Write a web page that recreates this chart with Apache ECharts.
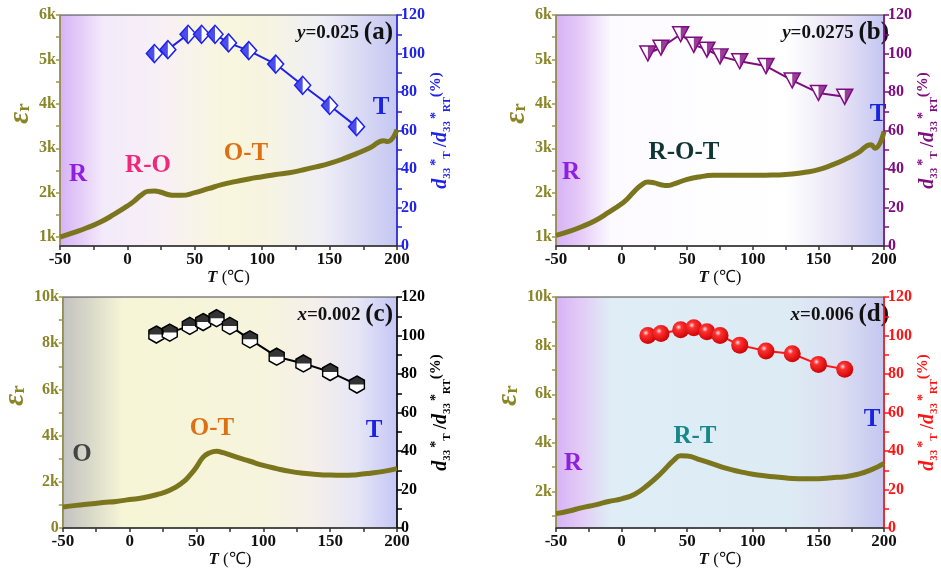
<!DOCTYPE html>
<html>
<head>
<meta charset="UTF-8">
<title>εr and d33 vs T</title>
<script src="https://cdn.jsdelivr.net/npm/echarts@6/dist/echarts.min.js"></script>
<style>
  html, body { margin: 0; padding: 0; background: #fff; }
  #chart { width: 941px; height: 579px; }
</style>
</head>
<body>
<div id="chart"></div>
<script>
// temperatures where d33*(T)/d33*(RT) was measured, same in all panels
const d33Temps = [20, 30, 45, 55, 65, 75, 90, 110, 130, 150, 170];
const d33A = [100, 102, 110, 110, 110, 105.5, 101.5, 94.5, 83.5, 73, 62];
const d33B = [100, 103, 110, 104.5, 102, 98.5, 96, 93.5, 86, 79.5, 77.5];
const d33C = [100.5, 101.5, 105, 107, 109, 105, 98, 89, 85.5, 81, 74.5];
const d33D = [100, 101, 103, 104, 102, 100, 95, 92, 90.5, 85, 82.5];

// dielectric constant curves
const epsTA = [-50, -40, -30, -20, -10, 0, 5, 10, 15, 20, 25, 30, 35, 40, 50, 60, 70, 80, 90, 100, 110, 120, 130, 140, 150, 160, 170, 180, 190, 193, 200];
const epsA = [1000, 1100, 1210, 1340, 1510, 1700, 1810, 1940, 2030, 2040, 2010, 1960, 1940, 1940, 2000, 2090, 2180, 2250, 2310, 2360, 2410, 2450, 2510, 2580, 2660, 2760, 2880, 3010, 3170, 3150, 3420];
const epsTB = [-50, -40, -30, -20, -10, 0, 5, 10, 15, 20, 25, 30, 35, 40, 50, 60, 70, 80, 90, 100, 110, 120, 130, 140, 150, 160, 170, 180, 190, 193, 200];
const epsB = [1040, 1130, 1240, 1375, 1555, 1750, 1880, 2040, 2170, 2240, 2220, 2180, 2160, 2200, 2300, 2360, 2390, 2395, 2390, 2390, 2395, 2400, 2420, 2460, 2520, 2620, 2745, 2895, 3080, 3000, 3380];
const epsTC = [-50, -40, -30, -20, -10, 0, 10, 20, 30, 40, 45, 50, 55, 60, 65, 70, 80, 90, 100, 110, 120, 130, 140, 150, 160, 170, 180, 190, 200];
const epsC = [910, 980, 1040, 1100, 1150, 1230, 1310, 1440, 1630, 1990, 2280, 2640, 3070, 3260, 3320, 3260, 3070, 2890, 2710, 2570, 2450, 2370, 2320, 2290, 2280, 2310, 2370, 2450, 2570];
const epsTD = [-50, -40, -30, -20, -10, 0, 10, 20, 30, 40, 45, 50, 60, 70, 80, 90, 100, 110, 120, 130, 140, 150, 160, 170, 180, 190, 200];
const epsD = [1090, 1200, 1340, 1450, 1590, 1700, 1890, 2270, 2750, 3300, 3470, 3460, 3300, 3130, 2950, 2820, 2710, 2640, 2590, 2540, 2530, 2530, 2570, 2610, 2710, 2890, 3160];

// tick labels
const tempTicks = [-50, -25, 0, 25, 50, 75, 100, 125, 150, 175, 200];
const epsLabels6k = [1000, 2000, 3000, 4000, 5000, 6000];
const epsTicks6k = [1000, 1500, 2000, 2500, 3000, 3500, 4000, 4500, 5000, 5500, 6000];
const epsLabels10k = [0, 2000, 4000, 6000, 8000, 10000];
const epsTicks10k = [0, 1000, 2000, 3000, 4000, 5000, 6000, 7000, 8000, 9000, 10000];
const ratioTicks = [0, 10, 20, 30, 40, 50, 60, 70, 80, 90, 100, 110, 120];

const serif = '"Liberation Serif", "Times New Roman", serif';
const olive = '#8a8628';
const oliveLine = '#9c9646';
const curveColor = '#7b761d';

function pairs(xs, ys) { return xs.map((x, i) => [x, ys[i]]); }
function grad(stops) {
  return { type: 'linear', x: 0, y: 0, x2: 1, y2: 0,
    colorStops: stops.map(s => ({ offset: s[0], color: s[1] })) };
}

const panels = [
  { left: 60, top: 15, min: 800, max: 6000, labels: epsLabels6k.slice(), ticks: epsTicks6k,
    eT: epsTA, e: epsA, d: d33A, color: '#1f22e6', tag: 'y', comp: '=0.025 ', letter: '(a)',
    bg: grad([[0, '#d6b2f6'], [0.13, '#f3eafa'], [0.3, '#f8f0f6'], [0.5, '#f8f6dc'], [0.62, '#f6f4e2'], [0.78, '#efeef6'], [1, '#c4c6f2']]) },
  { left: 556, top: 15, min: 800, max: 6000, labels: epsLabels6k.slice(), ticks: epsTicks6k,
    eT: epsTB, e: epsB, d: d33B, color: '#7e0c80', tag: 'y', comp: '=0.0275 ', letter: '(b)',
    bg: grad([[0, '#d6b2f6'], [0.07, '#e4c8f8'], [0.17, '#fcfaff'], [0.7, '#ffffff'], [0.86, '#e8e4f6'], [1, '#c4c6f2']]) },
  { left: 60, top: 297, min: 0, max: 10000, labels: epsLabels10k, ticks: epsTicks10k,
    eT: epsTC, e: epsC, d: d33C, color: '#000000', tag: 'x', comp: '=0.002 ', letter: '(c)',
    bg: grad([[0, '#c2c2c2'], [0.08, '#d8d8c8'], [0.18, '#f6f5d6'], [0.6, '#f6f4dc'], [0.75, '#f5efea'], [0.88, '#e6e6f6'], [1, '#c4c6f6']]) },
  { left: 556, top: 297, min: 500, max: 10000, labels: epsLabels10k.slice(1), ticks: epsTicks10k.slice(1),
    eT: epsTD, e: epsD, d: d33D, color: '#ff1414', tag: 'x', comp: '=0.006 ', letter: '(d)',
    bg: grad([[0, '#d6b2f6'], [0.07, '#e2c8f6'], [0.17, '#dfeef6'], [0.7, '#ddecf4'], [0.86, '#dcdff2'], [1, '#c4c6f0']]) }
];

const W = 337, H = 231;
const grids = [], xAxes = [], yAxes = [], series = [], graphics = [];

panels.forEach((p, i) => {
  grids.push({ left: p.left, top: p.top, width: W, height: H, show: true,
    backgroundColor: p.bg, borderColor: '#444', borderWidth: 1 });

  xAxes.push({
    type: 'value', gridIndex: i, min: -50, max: 200, interval: 50,
    axisLine: { show: true, onZero: false, lineStyle: { color: '#333', width: 1.5 } },
    axisTick: { show: true, length: 4, customValues: tempTicks, lineStyle: { color: '#333', width: 1.5 } },
    axisLabel: { fontFamily: serif, fontWeight: 'bold', fontSize: 17, color: '#111', margin: 5 },
    splitLine: { show: false },
    name: '{t|T}{u| (℃)}', nameLocation: 'middle', nameGap: 21,
    nameTextStyle: { rich: {
      t: { fontFamily: serif, fontStyle: 'italic', fontWeight: 'bold', fontSize: 17, color: '#111' },
      u: { fontFamily: serif, fontSize: 17, color: '#111' } } }
  });

  yAxes.push({
    type: 'value', gridIndex: i, position: 'left', min: p.min, max: p.max,
    axisLine: { show: true, onZero: false, lineStyle: { color: oliveLine, width: 1.5 } },
    axisTick: { show: true, length: 4, customValues: p.ticks, lineStyle: { color: oliveLine, width: 1.5 } },
    axisLabel: { customValues: p.labels, formatter: v => v === 0 ? '0' : (v / 1000) + 'k',
      fontFamily: serif, fontWeight: 'bold', fontSize: 16, color: olive, margin: 4 },
    splitLine: { show: false },
    name: '{e|ε}{r|r}', nameLocation: 'middle', nameGap: 24, nameRotate: 90,
    nameTextStyle: { padding: [0, 0, 0, 34], rich: {
      e: { fontFamily: serif, fontStyle: 'italic', fontWeight: 'bold', fontSize: 29, color: olive, lineHeight: 26 },
      r: { fontFamily: serif, fontWeight: 'bold', fontSize: 19, color: olive, verticalAlign: 'bottom' } } }
  });

  const c = p.color;
  yAxes.push({
    type: 'value', gridIndex: i, position: 'right', min: 0, max: 120, interval: 20,
    axisLine: { show: true, onZero: false, lineStyle: { color: c, width: 1.5 } },
    axisTick: { show: true, length: 5, customValues: ratioTicks, lineStyle: { color: c, width: 1.5 } },
    axisLabel: { fontFamily: serif, fontWeight: 'bold', fontSize: 16, color: c, margin: 4 },
    splitLine: { show: false },
    name: '{d|d}{s|33}{p|*}{s|T}{n| /}{d|d}{s|33}{p|*}{s|RT}{q|(%)}',
    nameLocation: 'middle', nameGap: 30, nameRotate: 90,
    nameTextStyle: { rich: {
      d: { fontFamily: serif, fontStyle: 'italic', fontWeight: 'bold', fontSize: 20, color: c, lineHeight: 24 },
      s: { fontFamily: serif, fontWeight: 'bold', fontSize: 11, color: c, verticalAlign: 'bottom' },
      p: { fontFamily: serif, fontWeight: 'bold', fontSize: 14, color: c, verticalAlign: 'top', padding: [0, 0, 0, 2] },
      n: { fontFamily: serif, fontWeight: 'bold', fontSize: 18, color: c },
      q: { fontFamily: serif, fontWeight: 'bold', fontSize: 15, color: c, verticalAlign: 'top' } } }
  });

  series.push({
    type: 'line', xAxisIndex: i, yAxisIndex: 2 * i, data: pairs(p.eT, p.e),
    showSymbol: false, smooth: 0.5,
    lineStyle: { color: curveColor, width: 5 }, z: 2, silent: true
  });

  const ratio = pairs(d33Temps, p.d);
  let base, half;
  if (i === 0) {
    base = { symbol: 'diamond', symbolSize: [16, 18] };
    half = { symbol: 'path://M1,0 L0,1 L1,2 Z', symbolSize: [8, 18], symbolOffset: [-4, 0] };
  } else if (i === 1) {
    base = { symbol: 'path://M0,0 L2,0 L1,2 Z', symbolSize: [16, 15] };
    half = { symbol: 'path://M1,0 L2,0 L1,2 Z', symbolSize: [8, 15], symbolOffset: [4, 0] };
  } else if (i === 2) {
    base = { symbol: 'path://M1,0 L2,0.5 L2,1.5 L1,2 L0,1.5 L0,0.5 Z', symbolSize: [15, 17] };
    half = { symbol: 'path://M1,0 L2,0.5 L2,1 L0,1 L0,0.5 Z', symbolSize: [15, 8.5], symbolOffset: [0, -4.25] };
  }

  if (i < 3) {
    series.push(Object.assign({
      type: 'line', xAxisIndex: i, yAxisIndex: 2 * i + 1, data: ratio,
      showAllSymbol: true, lineStyle: { color: c, width: 2 },
      itemStyle: { color: '#fff', borderColor: c, borderWidth: 1.5 }, z: 3, silent: true
    }, base));
    series.push(Object.assign({
      type: 'scatter', xAxisIndex: i, yAxisIndex: 2 * i + 1, data: ratio,
      itemStyle: { color: c }, z: 4, silent: true
    }, half));
  } else {
    series.push({
      type: 'line', xAxisIndex: i, yAxisIndex: 2 * i + 1, data: ratio,
      showAllSymbol: true, symbol: 'circle', symbolSize: 17,
      lineStyle: { color: c, width: 2 },
      itemStyle: { color: { type: 'radial', x: 0.38, y: 0.35, r: 0.7,
        colorStops: [{ offset: 0, color: '#ffe4e4' }, { offset: 0.25, color: '#ff3030' }, { offset: 1, color: '#c80000' }] } },
      z: 3, silent: true
    });
  }

  // composition label, top right
  graphics.push({
    type: 'text', x: p.left + W - 4, y: p.top + 18,
    style: { text: '{i|' + p.tag + '}{b|' + p.comp + '}{l|' + p.letter + '}', align: 'right', verticalAlign: 'middle',
      rich: {
        i: { fontFamily: serif, fontStyle: 'italic', fontWeight: 'bold', fontSize: 19, fill: '#111' },
        b: { fontFamily: serif, fontWeight: 'bold', fontSize: 19, fill: '#111' },
        l: { fontFamily: serif, fontWeight: 'bold', fontSize: 25, fill: '#111' } } }
  });
});

// phase annotations
const notes = [
  ['R', 78, 175, '#9020e0'], ['R-O', 148, 166, '#f0287a'], ['O-T', 246, 154, '#dd7012'], ['T', 381, 108, '#1a24e0'],
  ['R', 571, 173, '#9020e0'], ['R-O-T', 684, 153, '#103535'], ['T', 878, 115, '#1a24e0'],
  ['O', 82, 455, '#444444'], ['O-T', 212, 429, '#dd7012'], ['T', 374, 431, '#1a24e0'],
  ['R', 573, 464, '#9020e0'], ['R-T', 695, 437, '#17888a'], ['T', 872, 420, '#1a24e0']
];
notes.forEach(n => graphics.push({
  type: 'text', x: n[1], y: n[2], z: 10,
  style: { text: n[0], fill: n[3], fontFamily: serif, fontWeight: 'bold', fontSize: 25, align: 'center', verticalAlign: 'middle' }
}));

const chart = echarts.init(document.getElementById('chart'));
chart.setOption({
  animation: false,
  grid: grids, xAxis: xAxes, yAxis: yAxes, series: series, graphic: graphics
});
</script>
</body>
</html>
